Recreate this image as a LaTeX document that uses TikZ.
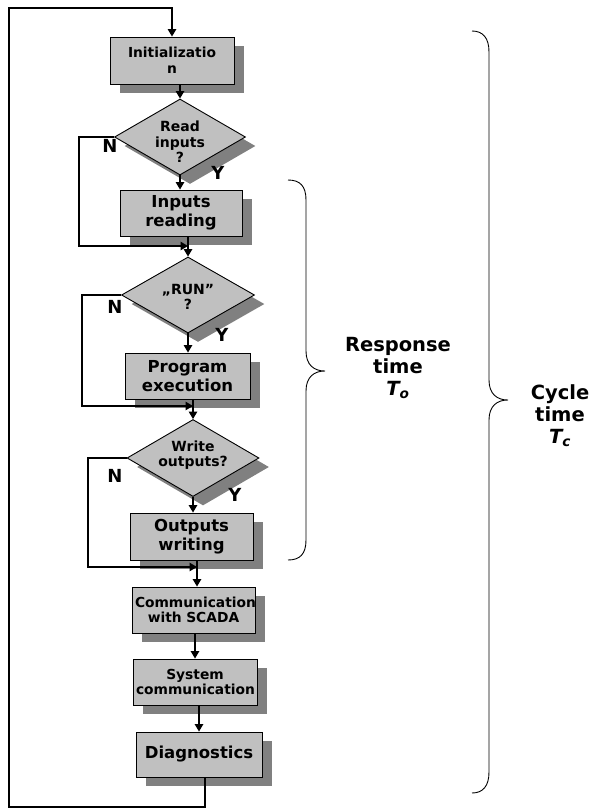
\documentclass[tikz,border=0pt]{standalone}
\usepackage{fontspec}
\setmainfont{DejaVu Sans}
\usetikzlibrary{shapes.geometric,shadows,arrows.meta}
\definecolor{boxgray}{HTML}{C0C0C0}
\definecolor{shadowgray}{HTML}{808080}
\begin{document}
\begin{tikzpicture}[x=1pt,y=-1pt,
  shad/.style={drop shadow={shadow xshift=10pt,shadow yshift=-9pt,fill=shadowgray,opacity=1}},
  box/.style={draw=black,line width=0.9pt,fill=boxgray,shad,rectangle,align=center,inner xsep=3pt,inner ysep=0pt},
  small/.style={font=\fontsize{13.8}{15.5}\selectfont\bfseries},
  big/.style={font=\fontsize{16.5}{19.5}\selectfont\bfseries},
  dec/.style={draw=black,line width=0.9pt,fill=boxgray,shad,diamond,minimum width=131pt,minimum height=76pt},
  dtext/.style={align=center,font=\fontsize{14}{15.5}\selectfont\bfseries,inner sep=0pt},
  yn/.style={font=\fontsize{18}{18}\selectfont\bfseries},
  side/.style={align=center,font=\fontsize{19.5}{22}\selectfont\bfseries},
  conn/.style={line width=1.2pt},
  arr/.style={conn,-{Triangle[length=7.5pt,width=8.5pt]}},
  brace/.style={line width=0.9pt}]
\useasboundingbox (0,0) rectangle (590,809);

% boxes
\node[box,small,minimum width=124pt,minimum height=47pt,text width=118pt] (init) at (172,60.5) {Initializatio\\n};
\node[dec,minimum width=131pt,minimum height=76pt] (d1) at (180,137) {};
\node[dtext] (t1) at (180,142) {Read\\inputs\\?};
\node[box,big,minimum width=122pt,minimum height=46pt,text width=116pt] (in) at (181,213) {Inputs\\reading};
\node[dec,minimum width=133pt,minimum height=76pt] (d2) at (188,295) {};
\node[dtext] (t2) at (188,297) {„RUN”\\?};
\node[box,big,minimum width=125pt,minimum height=46pt,text width=119pt] (pe) at (187.5,376) {Program\\execution};
\node[dec,minimum width=132pt,minimum height=77pt] (d3) at (193,458) {};
\node[dtext] (t3) at (193,455) {Write\\outputs?};
\node[box,big,minimum width=123pt,minimum height=47pt,text width=117pt] (ow) at (191.5,536.5) {Outputs\\writing};
\node[box,small,minimum width=123pt,minimum height=46pt,text width=117pt] (cm) at (193.5,610) {Communication\\with SCADA};
\node[box,small,minimum width=124pt,minimum height=46pt,text width=118pt] (sy) at (195,682) {System\\communication};
\node[box,big,minimum width=126pt,minimum height=45pt,text width=120pt] (dg) at (199,754.5) {Diagnostics};

% labels
\node[yn] (n1) at (110,146) {N};
\node[yn] (y1) at (218,173) {Y};
\node[yn] (n2) at (115,307) {N};
\node[yn] (y2) at (222,335) {Y};
\node[yn] (n3) at (115,476) {N};
\node[yn] (y3) at (235,495) {Y};

\node[side] (resp) at (398,368) {Response\\time\\{\itshape T\textsubscript{o}}};
\node[side] (cyc) at (560,416) {Cycle\\time\\{\itshape T\textsubscript{c}}};

% coordinates
\coordinate (bl) at (9,807);
\coordinate (tl) at (9,8);
\coordinate (l1) at (79,246);
\coordinate (l2) at (82,406);
\coordinate (l3) at (88,567);
\coordinate (j3) at (197,567);
\coordinate (dgo) at (205,777);

% connectors
\draw[arr] (dgo) -- (dgo |- bl) -- (bl) -- (tl) -- (tl -| init.north) -- (init.north);
\draw[arr] (d1.north |- init.south) -- (d1.north);
\draw[arr] (d1.south) -- (d1.south |- in.north);
\draw[arr] (d1.west) -| (l1) -- (l1 -| d2.north);
\draw[arr] (d2.north |- in.south) -- (d2.north);
\draw[arr] (d2.south) -- (d2.south |- pe.north);
\draw[arr] (d2.west) -| (l2) -- (l2 -| d3.north);
\draw[arr] (d3.north |- pe.south) -- (d3.north);
\draw[arr] (d3.south) -- (d3.south |- ow.north);
\draw[arr] (d3.west) -| (l3) -- (j3);
\draw[arr] (j3 |- ow.south) -- (j3 |- cm.north);
\draw[arr] (sy.north |- cm.south) -- (sy.north);
\draw[arr] (dg.north |- sy.south) -- (dg.north);

% braces
\draw[brace] (288,180) .. controls (300,180) and (306,186) .. (306,200)
  -- (306,351) .. controls (306,365) and (314,371) .. (325,371)
  .. controls (314,371) and (306,377) .. (306,391)
  -- (306,540) .. controls (306,554) and (300,560) .. (288,560);
\draw[brace] (472,31) .. controls (483,31) and (489,38) .. (489,52)
  -- (489,380) .. controls (489,394) and (497,400) .. (508,400)
  .. controls (497,400) and (489,406) .. (489,420)
  -- (489,772) .. controls (489,786) and (483,793) .. (472,793);
\end{tikzpicture}
\end{document}
